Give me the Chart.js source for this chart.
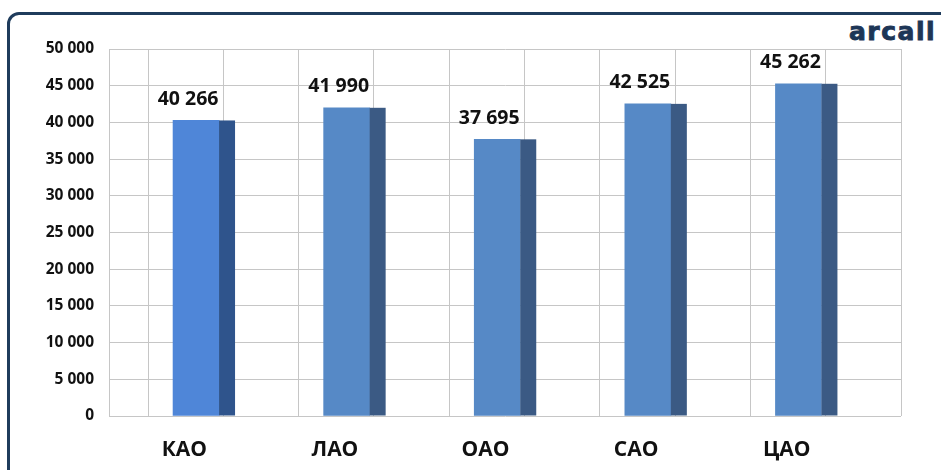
<!DOCTYPE html>
<html>
<head>
<meta charset="utf-8">
<script src="https://cdn.jsdelivr.net/npm/chart.js@4.4.1/dist/chart.umd.min.js"></script>
<style>
  html, body { margin: 0; padding: 0; background: #fff; overflow: hidden; }
  #wrap { position: relative; width: 941px; height: 470px; }
  #frame {
    position: absolute; left: 7px; top: 12px; width: 960px; height: 490px;
    border: 3px solid #1f3c5c; border-radius: 12px; box-sizing: border-box;
  }
  #logo {
    position: absolute; left: 849px; top: 17px; line-height: 28px;
    font: bold 25px "DejaVu Sans", sans-serif; color: #1d3657; letter-spacing: 1.5px;
    -webkit-text-stroke: 0.9px #1d3657;
  }
  #c { position: absolute; left: 0; top: 0; }
</style>
</head>
<body>
<div id="wrap">
  <div id="frame"></div>
  <div id="logo">arcall</div>
  <canvas id="c" width="941" height="470"></canvas>
</div>
<script>
// data
const categories = ['КАО', 'ЛАО', 'ОАО', 'САО', 'ЦАО'];
const values = [40266, 41990, 37695, 42525, 45262];
const yMax = 50000;
const yStep = 5000;

// colours (first bar is a bit brighter in the original)
const frontColors = ['#4f86d8', '#5689c6', '#5689c6', '#5689c6', '#5689c6'];
const sideColors = ['#2f548c', '#3b5a84', '#3b5a84', '#3b5a84', '#3b5a84'];
const gridColor = '#c6c6c6';

// back wall lines sit half a category apart, shifted left of the bar centres
const gridStart = -0.319;
const gridStep = 0.5;

const fmt = (v) => String(v).replace(/\B(?=(\d{3})+(?!\d))/g, ' ');

// draws the dark side face + the value labels
const bar3d = {
  id: 'bar3d',
  afterDatasetsDraw(chart) {
    const ctx = chart.ctx;
    const meta = chart.getDatasetMeta(0);
    ctx.save();
    meta.data.forEach((bar, i) => {
      const p = bar.getProps(['x', 'y', 'base', 'width'], true);
      ctx.fillStyle = sideColors[i];
      ctx.fillRect(p.x + p.width / 2, p.y, 16, p.base - p.y);

      ctx.fillStyle = '#111';
      ctx.font = 'bold 19.5px "Open Sans"';
      ctx.textAlign = 'center';
      ctx.textBaseline = 'middle';
      ctx.fillText(fmt(values[i]), p.x - 8, p.y - 21);
    });
    ctx.restore();
  }
};

new Chart(document.getElementById('c'), {
  type: 'bar',
  data: {
    datasets: [{
      data: values.map((v, i) => ({ x: i, y: v })),
      backgroundColor: frontColors,
      barThickness: 46
    }]
  },
  options: {
    responsive: false,
    animation: false,
    layout: { padding: { top: 49, right: 40, left: 10, bottom: 0 } },
    plugins: { legend: { display: false }, tooltip: { enabled: false } },
    scales: {
      x: {
        type: 'linear',
        min: -0.578,
        max: gridStart + 10 * gridStep,
        offset: false,
        grid: { color: gridColor, offset: false, drawTicks: false },
        border: { display: false },
        afterBuildTicks: (s) => {
          const t = [];
          for (let k = 0; k <= 10; k++) t.push({ value: gridStart + k * gridStep });
          s.ticks = t;
        },
        afterFit: (s) => { s.height = 54; },
        ticks: {
          callback: (v, idx) => (idx % 2 === 1 ? categories[(idx - 1) / 2] : ''),
          labelOffset: -39,
          padding: 21,
          autoSkip: false,
          maxRotation: 0,
          color: '#111',
          font: { family: '"Open Sans"', size: 21, weight: 'bold' }
        }
      },
      y: {
        min: 0,
        max: yMax,
        grid: { color: gridColor, drawTicks: false },
        border: { display: true, color: gridColor },
        afterFit: (s) => { s.width = 99; },
        ticks: {
          stepSize: yStep,
          padding: 15,
          color: '#111',
          callback: (v) => fmt(v),
          font: { family: '"Open Sans"', size: 15.5, weight: 'bold' }
        }
      }
    }
  },
  plugins: [bar3d]
});
</script>
</body>
</html>
